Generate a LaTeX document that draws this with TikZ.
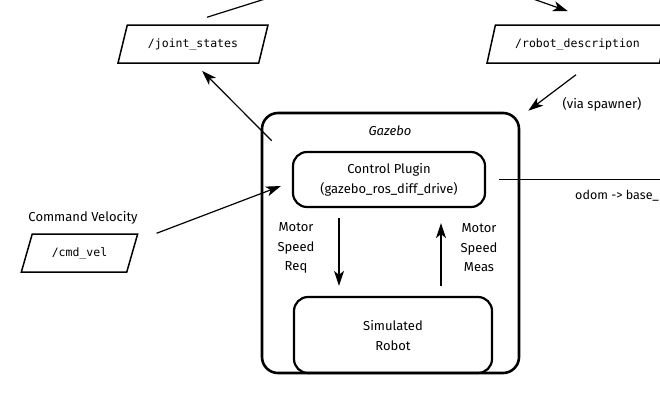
\documentclass[tikz,border=0pt]{standalone}
\usepackage{fontspec}
\setmainfont{Fira Sans}
\setmonofont{DejaVu Sans Mono}
\usetikzlibrary{shapes.geometric,arrows.meta}

\begin{document}
\begin{tikzpicture}[%
      x=1pt, y=-1pt,
      >={Stealth[length=15pt,width=10pt,inset=4pt]},
      topic/.style={draw, line width=1.5pt, trapezium, trapezium left angle=61,
        trapezium right angle=119, trapezium stretches=true,
        minimum height=38pt, inner sep=0pt,
        font=\ttfamily\fontsize{11.5}{13}\selectfont},
      block/.style={draw, line width=2.2pt, rounded corners=14pt, align=center,
        inner sep=0pt, font=\fontsize{13}{20}\selectfont},
      lbl/.style={align=center, inner sep=0pt, font=\fontsize{13}{19.5}\selectfont},
      link/.style={line width=1.2pt},
      ]
      \useasboundingbox (0,0) rectangle (660,413);
      \clip (0,0) rectangle (660,413);

      % topics
      \node[topic, minimum width=150pt] (joint) at (193,44) {/joint\_states};
      \node[topic, minimum width=181pt] (robdesc) at (577.5,44) {/robot\_description};
      \node[topic, minimum width=117pt] (cmdvel) at (79.5,253) {/cmd\_vel};
      \node[lbl] (cmdlbl) at (83,218) {Command Velocity};

      % gazebo
      \node[block, line width=2.6pt, rounded corners=16pt, minimum width=257pt,
        minimum height=260pt] (gazebo) at (390.5,243) {};
      \node[lbl, font=\itshape\fontsize{13}{14}\selectfont] (gazebolbl) at (390,131) {Gazebo};
      \node[block, minimum width=192pt, minimum height=55pt] (plugin) at (389,179.5)
        {Control Plugin\\(gazebo\_ros\_diff\_drive)};
      \node[block, minimum width=198pt, minimum height=76pt] (robot) at (393,335)
        {Simulated\\Robot};
      \node[lbl] (req) at (296,248) {Motor\\Speed\\Req};
      \node[lbl] (meas) at (479,248) {Motor\\Speed\\Meas};

      \node[lbl] (via) at (602,104) {(via spawner)};
      \node[lbl, anchor=east, font=\fontsize{12.5}{14}\selectfont] (odom) at (659,196) {odom -> base\_};

      \coordinate (jsrc) at (319,-18);
      \coordinate (rdsrc) at (502,-12);
      \coordinate (odomend) at (700,179.5);

      \draw[link] ([xshift=14pt,yshift=7pt]joint.north) -- (jsrc);
      \draw[link,->] (rdsrc) -- ([xshift=-9.5pt,yshift=13pt]robdesc.north);
      \draw[link,->] ([xshift=-1.5pt,yshift=-11pt]robdesc.south) -- ([xshift=8pt,yshift=1pt]gazebo.north east);
      \draw[link,->] ([xshift=11pt,yshift=-29pt]gazebo.north west) -- ([xshift=9pt,yshift=-7pt]joint.south);
      \draw[link,->] ([xshift=18pt]cmdvel.top right corner) -- ([xshift=-11pt,yshift=-6.5pt]plugin.west);
      \draw[link] ([xshift=13pt]plugin.east) -- (odomend);
      \draw[link,->] ([xshift=-50pt,yshift=-10pt]plugin.south) -- ([xshift=-54pt,yshift=10pt]robot.north);
      \draw[link,->] ([xshift=48pt,yshift=10pt]robot.north) -- ([xshift=52pt,yshift=-15pt]plugin.south);
\end{tikzpicture}
\end{document}
